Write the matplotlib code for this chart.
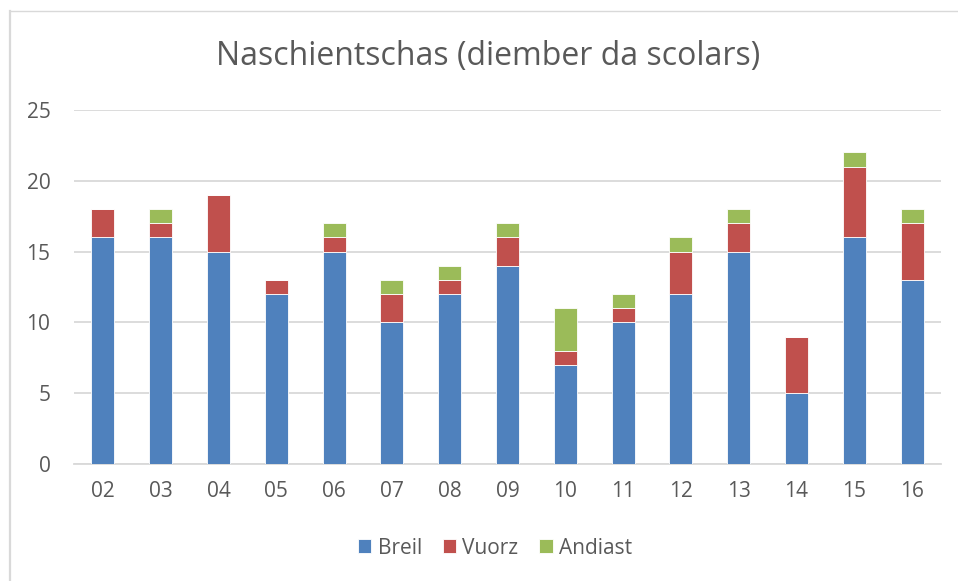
import matplotlib.pyplot as plt
from matplotlib.lines import Line2D
import numpy as np

categories = ['02', '03', '04', '05', '06', '07', '08', '09', '10', '11', '12', '13', '14', '15', '16']
breil = [16, 16, 15, 12, 15, 10, 12, 14, 7, 10, 12, 15, 5, 16, 13]
vuorz = [2, 1, 4, 1, 1, 2, 1, 2, 1, 1, 3, 2, 4, 5, 4]
andiast = [0, 1, 0, 0, 1, 1, 1, 1, 3, 1, 1, 1, 0, 1, 1]

plt.rcParams['font.family'] = ['Open Sans', 'DejaVu Sans']
txt = '#595959'
W, H = 958, 581

fig = plt.figure(figsize=(W / 100, H / 100), dpi=100)
fig.patch.set_facecolor('white')
ax = fig.add_axes([74 / W, 1 - 464 / H, 867 / W, 354 / H])

x = np.arange(len(categories))
w = 0.40
b = np.array(breil)
v = np.array(vuorz)
a = np.array(andiast)
ax.bar(x, b, w, color='#4F81BD', edgecolor='white', lw=0.6, label='Breil', zorder=3)
ax.bar(x, v, w, bottom=b, color='#C0504D', edgecolor='white', lw=0.6, label='Vuorz', zorder=3)
ax.bar(x, a, w, bottom=b + v, color='#9BBB59', edgecolor='white', lw=0.6, label='Andiast', zorder=3)

ax.set_xlim(-0.5, len(categories) - 0.5)
ax.set_ylim(0, 25)
ax.set_yticks(range(0, 26, 5))
ax.set_xticks(x)
ax.set_xticklabels(categories)
ax.yaxis.grid(True, color='#D9D9D9', lw=1.3, zorder=0)
ax.tick_params(axis='both', length=0, colors=txt, labelsize=15)
ax.tick_params(axis='x', pad=12)
ax.tick_params(axis='y', pad=17)
for s in ['top', 'right', 'left']:
    ax.spines[s].set_visible(False)
ax.spines['bottom'].set_color('#D9D9D9')
ax.spines['bottom'].set_linewidth(1.3)

fig.text(488 / W, 1 - 57 / H, 'Naschientschas (diember da scolars)', ha='center', va='center',
         fontsize=23, color=txt)

fig.legend(loc='center', bbox_to_anchor=(495 / W, 1 - 548 / H), ncol=3, frameon=False,
           fontsize=15, labelcolor=txt, handlelength=0.65, handleheight=0.65,
           handletextpad=0.3, columnspacing=1.0)

# chart frame (left and top edges visible)
fig.add_artist(Line2D([9.5 / W, 9.5 / W], [0, 1 - 11 / H], transform=fig.transFigure,
                      color='#D9D9D9', lw=1.6))
fig.add_artist(Line2D([9.5 / W, 1], [1 - 11 / H, 1 - 11 / H], transform=fig.transFigure,
                      color='#D9D9D9', lw=1.0))

fig.savefig('out.png', dpi=100, facecolor='white')
